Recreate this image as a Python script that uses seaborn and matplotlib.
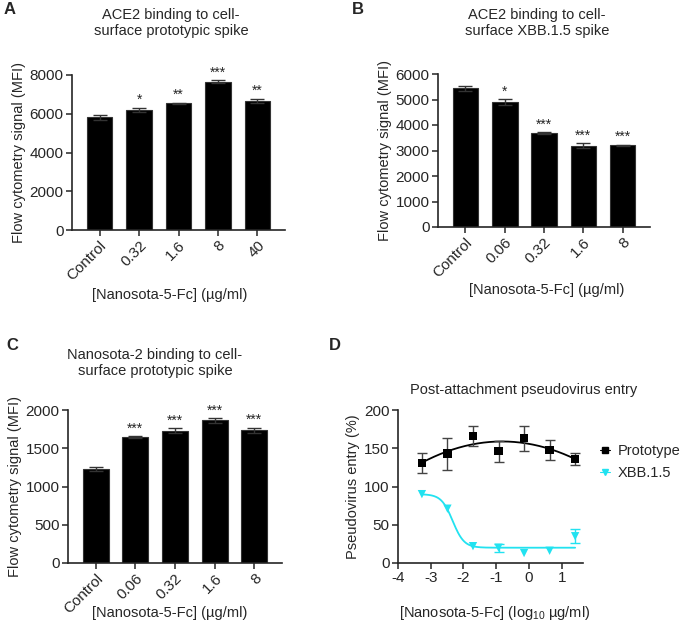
import numpy as np
import pandas as pd
import matplotlib
matplotlib.use("Agg")
import matplotlib.pyplot as plt
from matplotlib.lines import Line2D
import seaborn as sns

# --- data ---
conc_a = ["Control", "0.32", "1.6", "8", "40"]
mfi_a = [5820, 6200, 6540, 7660, 6660]
err_a = [120, 120, 35, 70, 120]
stars_a = ["", "*", "**", "***", "**"]

conc_b = ["Control", "0.06", "0.32", "1.6", "8"]
mfi_b = [5440, 4900, 3670, 3190, 3210]
err_b = [105, 105, 40, 100, 20]
stars_b = ["", "*", "***", "***", "***"]

conc_c = ["Control", "0.06", "0.32", "1.6", "8"]
mfi_c = [1230, 1643, 1730, 1865, 1735]
err_c = [22, 13, 35, 30, 35]
stars_c = ["", "***", "***", "***", "***"]

log_conc = [-3.27, -2.49, -1.71, -0.93, -0.15, 0.63, 1.41]
proto_entry = [131, 143, 166, 146, 163, 148, 136]
proto_err = [13, 21, 13, 14, 16, 13, 8]
xbb_entry = [90, 71, 22, 20, 13, 16, 35]
xbb_err = [1, 1, 1, 5, 0, 1, 9]

# 4PL fit parameters for XBB.1.5
xbb_top, xbb_bottom, xbb_logic50, xbb_hill = 90, 20, -2.33, 2.5

CYAN = "#22e2f0"

sns.set_style("ticks")
plt.rcParams["font.family"] = ["Liberation Sans", "DejaVu Sans"]
plt.rcParams["mathtext.fontset"] = "custom"
plt.rcParams["mathtext.rm"] = "Liberation Sans"
plt.rcParams["axes.unicode_minus"] = False
plt.rcParams["font.size"] = 10

fig = plt.figure(figsize=(6.83, 6.35), dpi=100)
W, H = 683, 635


def px_axes(x0, y0, x1, y1):
    return fig.add_axes([x0 / W, 1 - y1 / H, (x1 - x0) / W, (y1 - y0) / H])


def style_axes(ax):
    sns.despine(ax=ax)
    for s in ["left", "bottom"]:
        ax.spines[s].set_linewidth(1.2)
    ax.tick_params(direction="out", length=4, width=1.1, labelsize=11, pad=2)


def bar_panel(ax, cats, vals, errs, stars, ymax, step):
    df = pd.DataFrame({"conc": cats, "mfi": vals})
    sns.barplot(data=df, x="conc", y="mfi", color="black", width=0.65,
                edgecolor="#333333", linewidth=0.8, saturation=1, ax=ax)
    ax.errorbar(range(len(cats)), vals, yerr=errs, fmt="none", ecolor="#333333",
                elinewidth=1, capsize=5, capthick=1)
    for i, (v, e, s) in enumerate(zip(vals, errs, stars)):
        if s:
            ax.annotate(s, (i, v + e), xytext=(0, 0.5), textcoords="offset points",
                        ha="center", va="bottom", fontsize=10)
    ax.set_xlim(-0.7, len(cats) - 0.3)
    ax.set_ylim(0, ymax)
    ax.set_yticks(np.arange(0, ymax + 1, step))
    ax.set_xlabel("")
    ax.set_ylabel("Flow cytometry signal (MFI)", fontsize=10.5, labelpad=3)
    style_axes(ax)
    plt.setp(ax.get_xticklabels(), rotation=45, ha="right", rotation_mode="anchor")


# Panel A
axA = px_axes(72, 75, 285, 230)
bar_panel(axA, conc_a, mfi_a, err_a, stars_a, 8000, 2000)
fig.text(171 / W, 1 - 23 / H, "ACE2 binding to cell-\nsurface prototypic spike",
         ha="center", va="center", fontsize=10.5, linespacing=1.1)
fig.text(170 / W, 1 - 295 / H, "[Nanosota-5-Fc] (µg/ml)", ha="center", va="center", fontsize=10.5)
fig.text(4 / W, 1 - 10 / H, "A", fontweight="bold", fontsize=12, va="center")

# Panel B
axB = px_axes(438, 74, 650, 227)
bar_panel(axB, conc_b, mfi_b, err_b, stars_b, 6000, 1000)
fig.text(537 / W, 1 - 23 / H, "ACE2 binding to cell-\nsurface XBB.1.5 spike",
         ha="center", va="center", fontsize=10.5, linespacing=1.1)
fig.text(547 / W, 1 - 290 / H, "[Nanosota-5-Fc] (µg/ml)", ha="center", va="center", fontsize=10.5)
fig.text(352 / W, 1 - 10 / H, "B", fontweight="bold", fontsize=12, va="center")

# Panel C
axC = px_axes(68, 410, 282, 563)
bar_panel(axC, conc_c, mfi_c, err_c, stars_c, 2000, 500)
fig.text(155 / W, 1 - 363 / H, "Nanosota-2 binding to cell-\nsurface prototypic spike",
         ha="center", va="center", fontsize=10.5, linespacing=1.1)
fig.text(170 / W, 1 - 613 / H, "[Nanosota-5-Fc] (µg/ml)", ha="center", va="center", fontsize=10.5)
fig.text(6 / W, 1 - 345 / H, "C", fontweight="bold", fontsize=12, va="center")

# Panel D
axD = px_axes(398, 410, 583, 563)
x = np.array(log_conc)
coef = np.polyfit(x, proto_entry, 2)
xf = np.linspace(x.min(), x.max(), 200)
fit_df = pd.DataFrame({
    "x": np.concatenate([xf, xf]),
    "y": np.concatenate([
        np.polyval(coef, xf),
        xbb_bottom + (xbb_top - xbb_bottom) / (1 + 10 ** ((xf - xbb_logic50) * xbb_hill)),
    ]),
    "series": ["Prototype"] * len(xf) + ["XBB.1.5"] * len(xf),
})
sns.lineplot(data=fit_df, x="x", y="y", hue="series",
             palette={"Prototype": "black", "XBB.1.5": CYAN}, linewidth=1.3,
             legend=False, ax=axD)
axD.errorbar(x, proto_entry, yerr=proto_err, fmt="none", ecolor="#444444",
             elinewidth=1, capsize=3.5, capthick=1)
# small XBB errors are hidden under the markers in the original
big = np.array(xbb_err) > 2
axD.errorbar(x[big], np.array(xbb_entry)[big], yerr=np.array(xbb_err)[big], fmt="none",
             ecolor=CYAN, elinewidth=1, capsize=3.5, capthick=1)
pts = pd.DataFrame({
    "x": np.concatenate([x, x]),
    "y": proto_entry + xbb_entry,
    "series": ["Prototype"] * len(x) + ["XBB.1.5"] * len(x),
})
sns.scatterplot(data=pts, x="x", y="y", hue="series", style="series",
                markers={"Prototype": "s", "XBB.1.5": "v"},
                palette={"Prototype": "black", "XBB.1.5": CYAN},
                s=36, edgecolor="none", legend=False, ax=axD, zorder=3)
axD.set_xlim(-4, 1.65)
axD.set_ylim(0, 200)
axD.set_xticks(range(-4, 2))
axD.set_yticks(range(0, 201, 50))
axD.set_xlabel("")
axD.set_ylabel("Pseudovirus entry (%)", fontsize=10.5, labelpad=3)
style_axes(axD)
fig.text(524 / W, 1 - 390 / H, "Post-attachment pseudovirus entry",
         ha="center", va="center", fontsize=10.5)
fig.text(495 / W, 1 - 613 / H, "[Nanosota-5-Fc] (log$_{10}$ µg/ml)",
         ha="center", va="center", fontsize=10.5)
fig.text(329 / W, 1 - 345 / H, "D", fontweight="bold", fontsize=12, va="center")

handles = [
    Line2D([], [], color="black", marker="s", markersize=5, linewidth=0.8),
    Line2D([], [], color=CYAN, marker="v", markersize=5, linewidth=0.8),
]
fig.legend(handles, ["Prototype", "XBB.1.5"], loc="center left",
           bbox_to_anchor=(600 / W, 1 - 462 / H), frameon=False, fontsize=10.5,
           handlelength=0.7, handletextpad=0.5, labelspacing=0.6, borderpad=0,
           borderaxespad=0)

fig.savefig("out.png", dpi=100)
